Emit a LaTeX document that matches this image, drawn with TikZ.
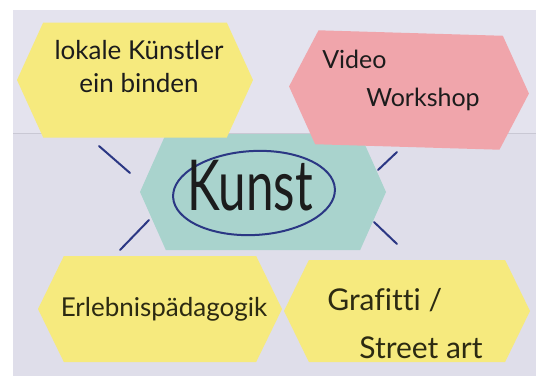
\documentclass[tikz,border=0pt]{standalone}
\usepackage{graphicx}
\usepackage{fontspec}
\setmainfont{Lato}[Ligatures=NoCommon]
\usetikzlibrary{shapes.symbols,shapes.geometric}
\definecolor{board}{HTML}{E4E3EE}
\definecolor{boardlow}{HTML}{DFDEEA}
\definecolor{seam}{HTML}{C9C8D4}
\definecolor{cardyellow}{HTML}{F6EA7E}
\definecolor{cardpink}{HTML}{F0A5AB}
\definecolor{cardteal}{HTML}{A9D3CD}
\definecolor{pen}{HTML}{2B3784}
\definecolor{ink}{HTML}{1C1C1C}
\definecolor{inkolive}{HTML}{2C2A12}
\begin{document}
\begin{tikzpicture}
    [
    x=1pt, y=-1pt,
    card/.style={
      signal,
      signal to=east and west,
      signal pointer angle=128,
      inner sep=0pt
    },
    hand/.style={
      font=\fontsize{22}{31}\selectfont,
      text=ink,
      inner sep=0pt
    },
    stroke/.style={
      draw=pen,
      line width=2pt,
      line cap=round
    }
    ]
    \useasboundingbox (0,0) rectangle (536,376);
    \fill[white] (0,0) rectangle (536,376);
    % board
    \fill[board] (13,10) rectangle (536,376);
    \fill[boardlow] (13,133) rectangle (536,376);
    \draw[seam] (13,133) -- (536,133);
    % cards
    \node at (263,192) [card, fill=cardteal, minimum width=246, minimum height=116, signal pointer angle=132] (mitte) {};
    \node at (135,80) [card, fill=cardyellow, minimum width=236, minimum height=115, signal pointer angle=131] (lokal) {};
    \node at (409,90) [card, fill=cardpink, minimum width=240, minimum height=114, rotate=-1.7] (video) {};
    \node at (160,309) [card, fill=cardyellow, minimum width=244, minimum height=106] (erlebnis) {};
    \node at (407,311) [card, fill=cardyellow, minimum width=246, minimum height=102] (grafitti) {};
    % texts
    \node at (254,193) [ellipse, draw=pen, line width=2pt, minimum width=162, minimum height=84, rotate=3, inner sep=0pt] (ring) {};
    \node at (250,186) [text=ink, inner sep=0pt] (kunst) {\scalebox{0.95}[1.35]{\fontsize{52}{52}\selectfont Kunst}};
    \node at (139,67) [hand, align=center, font=\fontsize{26}{33}\selectfont] (lokal-txt) {lokale Künstler\\ein binden};
    \node at (401,80) [hand, align=left, font=\fontsize{25}{38}\selectfont] (video-txt) {Video\\\hspace*{44pt}Workshop};
    \node at (164,309) [hand, text=inkolive, font=\fontsize{26}{30}\selectfont] (erlebnis-txt) {Erlebnispädagogik};
    \node at (405,324) [hand, align=left, text=inkolive, font=\fontsize{30}{48}\selectfont] (grafitti-txt) {Grafitti /\\\hspace*{32pt}Street art};
    % strokes
    \coordinate (s1a) at (99,146);
    \coordinate (s1b) at (130,173);
    \coordinate (s2a) at (397,152);
    \coordinate (s2b) at (378,170);
    \coordinate (s3a) at (149,220);
    \coordinate (s3b) at (120,250);
    \coordinate (s4a) at (374,222);
    \coordinate (s4b) at (397,244);
    \draw[stroke] (s1a) -- (s1b);
    \draw[stroke] (s2a) -- (s2b);
    \draw[stroke] (s3a) -- (s3b);
    \draw[stroke] (s4a) -- (s4b);
  \end{tikzpicture}
\end{document}
